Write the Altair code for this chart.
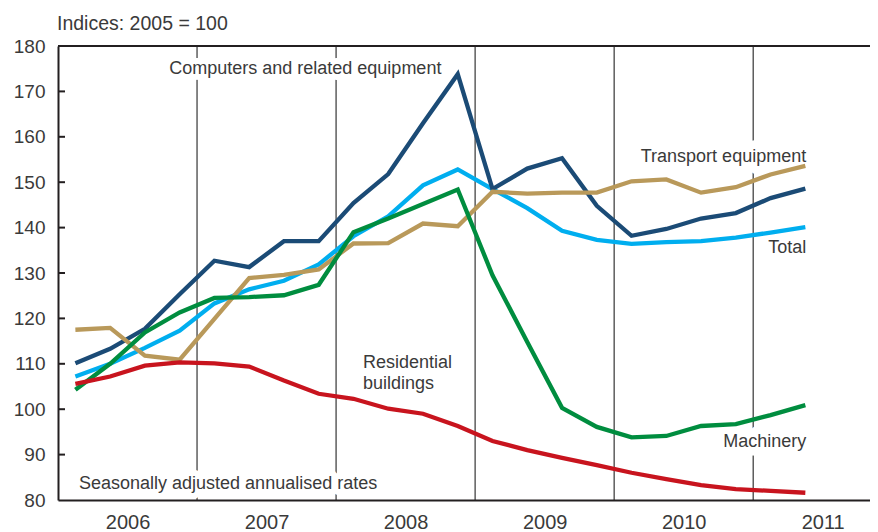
import altair as alt
import pandas as pd

# Quarterly observations 2006Q1 .. 2011Q2
years = [2006, 2006, 2006, 2006, 2007, 2007, 2007, 2007, 2008, 2008, 2008, 2008,
         2009, 2009, 2009, 2009, 2010, 2010, 2010, 2010, 2011, 2011]
quarters = [1, 2, 3, 4] * 5 + [1, 2]

computers = [110.1, 113.3, 117.7, 125.3, 132.7, 131.3, 137.0, 137.0, 145.4, 151.8, 163.0,
             173.8, 148.5, 153.0, 155.3, 144.8, 138.2, 139.7, 142.0, 143.2, 146.5, 148.6]
total = [107.2, 110.0, 113.5, 117.3, 123.3, 126.4, 128.3, 131.9, 138.1, 142.5, 149.3,
         152.8, 148.5, 144.3, 139.3, 137.3, 136.4, 136.8, 137.0, 137.8, 138.9, 140.1]
machinery = [104.3, 110.0, 116.9, 121.3, 124.5, 124.7, 125.1, 127.4, 139.0, 142.0, 145.2,
             148.4, 129.5, 114.8, 100.3, 96.1, 93.8, 94.1, 96.3, 96.7, 98.7, 100.9]
transport = [117.5, 117.9, 111.8, 110.9, 119.9, 128.9, 129.6, 130.8, 136.5, 136.6, 140.9,
             140.3, 147.9, 147.5, 147.7, 147.7, 150.2, 150.6, 147.7, 148.9, 151.7, 153.6]
residential = [105.6, 107.2, 109.6, 110.3, 110.1, 109.4, 106.3, 103.4, 102.3, 100.1, 99.0,
               96.3, 93.0, 91.0, 89.3, 87.7, 86.0, 84.6, 83.3, 82.4, 82.0, 81.6]

series = [
    ("Total", total, "#00aeef"),
    ("Computers and related equipment", computers, "#1b4b76"),
    ("Transport equipment", transport, "#b9995a"),
    ("Machinery", machinery, "#008d3f"),
    ("Residential buildings", residential, "#c8141e"),
]

year_labels = [2006, 2007, 2008, 2009, 2010, 2011]
year_bounds = [2007, 2008, 2009, 2010, 2011]
y_ticks = [80, 90, 100, 110, 120, 130, 140, 150, 160, 170, 180]
y_title = "Indices: 2005 = 100"

# annotation texts: (text, x position in years, y value, align)
ann_text = ["Computers and related equipment", "Transport equipment", "Total", "Machinery",
            "Residential", "buildings", "Seasonally adjusted annualised rates"]
ann_x = [2006.80, 2011.381, 2011.381, 2011.381, 2008.194, 2008.194, 2006.151]
ann_y = [174.9, 155.5, 135.5, 92.8, 110.2, 105.5, 83.5]
ann_align = ["left", "right", "right", "right", "left", "left", "left"]

FONT = "Liberation Sans"
TXT = "#3a3a3a"
AX = "#231f20"

t = [y + (q - 0.5) / 4 for y, q in zip(years, quarters)]

xscale = alt.Scale(domain=[2006, 2011.84], nice=False, zero=False)
yscale = alt.Scale(domain=[80, 180], nice=False, zero=False)

xaxis = alt.Axis(values=[y + 0.5 for y in year_labels], labelExpr="floor(datum.value)",
                 ticks=False, grid=False, domainColor=AX, domainWidth=2,
                 labelFontSize=20, labelFont=FONT, labelColor=TXT, labelPadding=12,
                 title=None, zindex=1)
yaxis = alt.Axis(values=y_ticks, ticks=False, grid=False, domainColor=AX, domainWidth=2,
                 labelFontSize=19, labelFont=FONT, labelColor=TXT, labelPadding=13,
                 title=None, zindex=1)

base_x = alt.X("t:Q", scale=xscale, axis=xaxis)

rules_df = pd.DataFrame({"b": year_bounds})
vrules = alt.Chart(rules_df).mark_rule(color="#444444", strokeWidth=1.3).encode(
    x=alt.X("b:Q", scale=xscale, axis=xaxis)
)

ann_df = pd.DataFrame({"text": ann_text, "x": ann_x, "y": ann_y, "align": ann_align})

def text_layer(df, align, halo):
    kw = dict(font=FONT, fontSize=18, baseline="middle", align=align)
    if halo:
        kw.update(fill="white", stroke="white", strokeWidth=halo, strokeJoin="round")
    else:
        kw.update(color=TXT)
    return alt.Chart(df).mark_text(**kw).encode(
        x=alt.X("x:Q", scale=xscale, axis=xaxis),
        y=alt.Y("y:Q", scale=yscale, axis=yaxis),
        text="text:N",
    )

left_df = ann_df[ann_df["align"] == "left"]
right_df = ann_df[ann_df["align"] == "right"]

halos = [text_layer(left_df, "left", 12), text_layer(right_df, "right", 17)]
texts = [text_layer(left_df, "left", 0), text_layer(right_df, "right", 0)]

lines = []
for name, vals, col in series:
    df = pd.DataFrame({"t": t, "v": vals})
    lines.append(
        alt.Chart(df).mark_line(color=col, strokeWidth=4.3, strokeJoin="miter").encode(
            x=base_x,
            y=alt.Y("v:Q", scale=yscale, axis=yaxis),
        )
    )

top_df = pd.DataFrame({"v": [y_ticks[-1]]})
top_rule = alt.Chart(top_df).mark_rule(color=AX, strokeWidth=2).encode(
    y=alt.Y("v:Q", scale=yscale, axis=yaxis)
)

tick_df = pd.DataFrame({"v": y_ticks[1:-1]})
inner_ticks = alt.Chart(tick_df).mark_rule(color=AX, strokeWidth=2).encode(
    y=alt.Y("v:Q", scale=yscale, axis=yaxis),
    x=alt.value(0),
    x2=alt.value(7),
)

title_df = pd.DataFrame({"text": [y_title]})
title_mark = alt.Chart(title_df).mark_text(
    font=FONT, fontSize=19.5, color=TXT, align="left", baseline="alphabetic"
).encode(text="text:N", x=alt.value(-1), y=alt.value(-16))

chart = alt.layer(vrules, *halos, top_rule, inner_ticks, *lines, *texts, title_mark).properties(
    width=812,
    height=454,
    autosize=alt.AutoSizeParams(type="none"),
    padding={"left": 50, "top": 38, "right": 0, "bottom": 32},
).configure_view(stroke=None)

chart.save("out.html", embed_options={"renderer": "svg", "actions": False})
